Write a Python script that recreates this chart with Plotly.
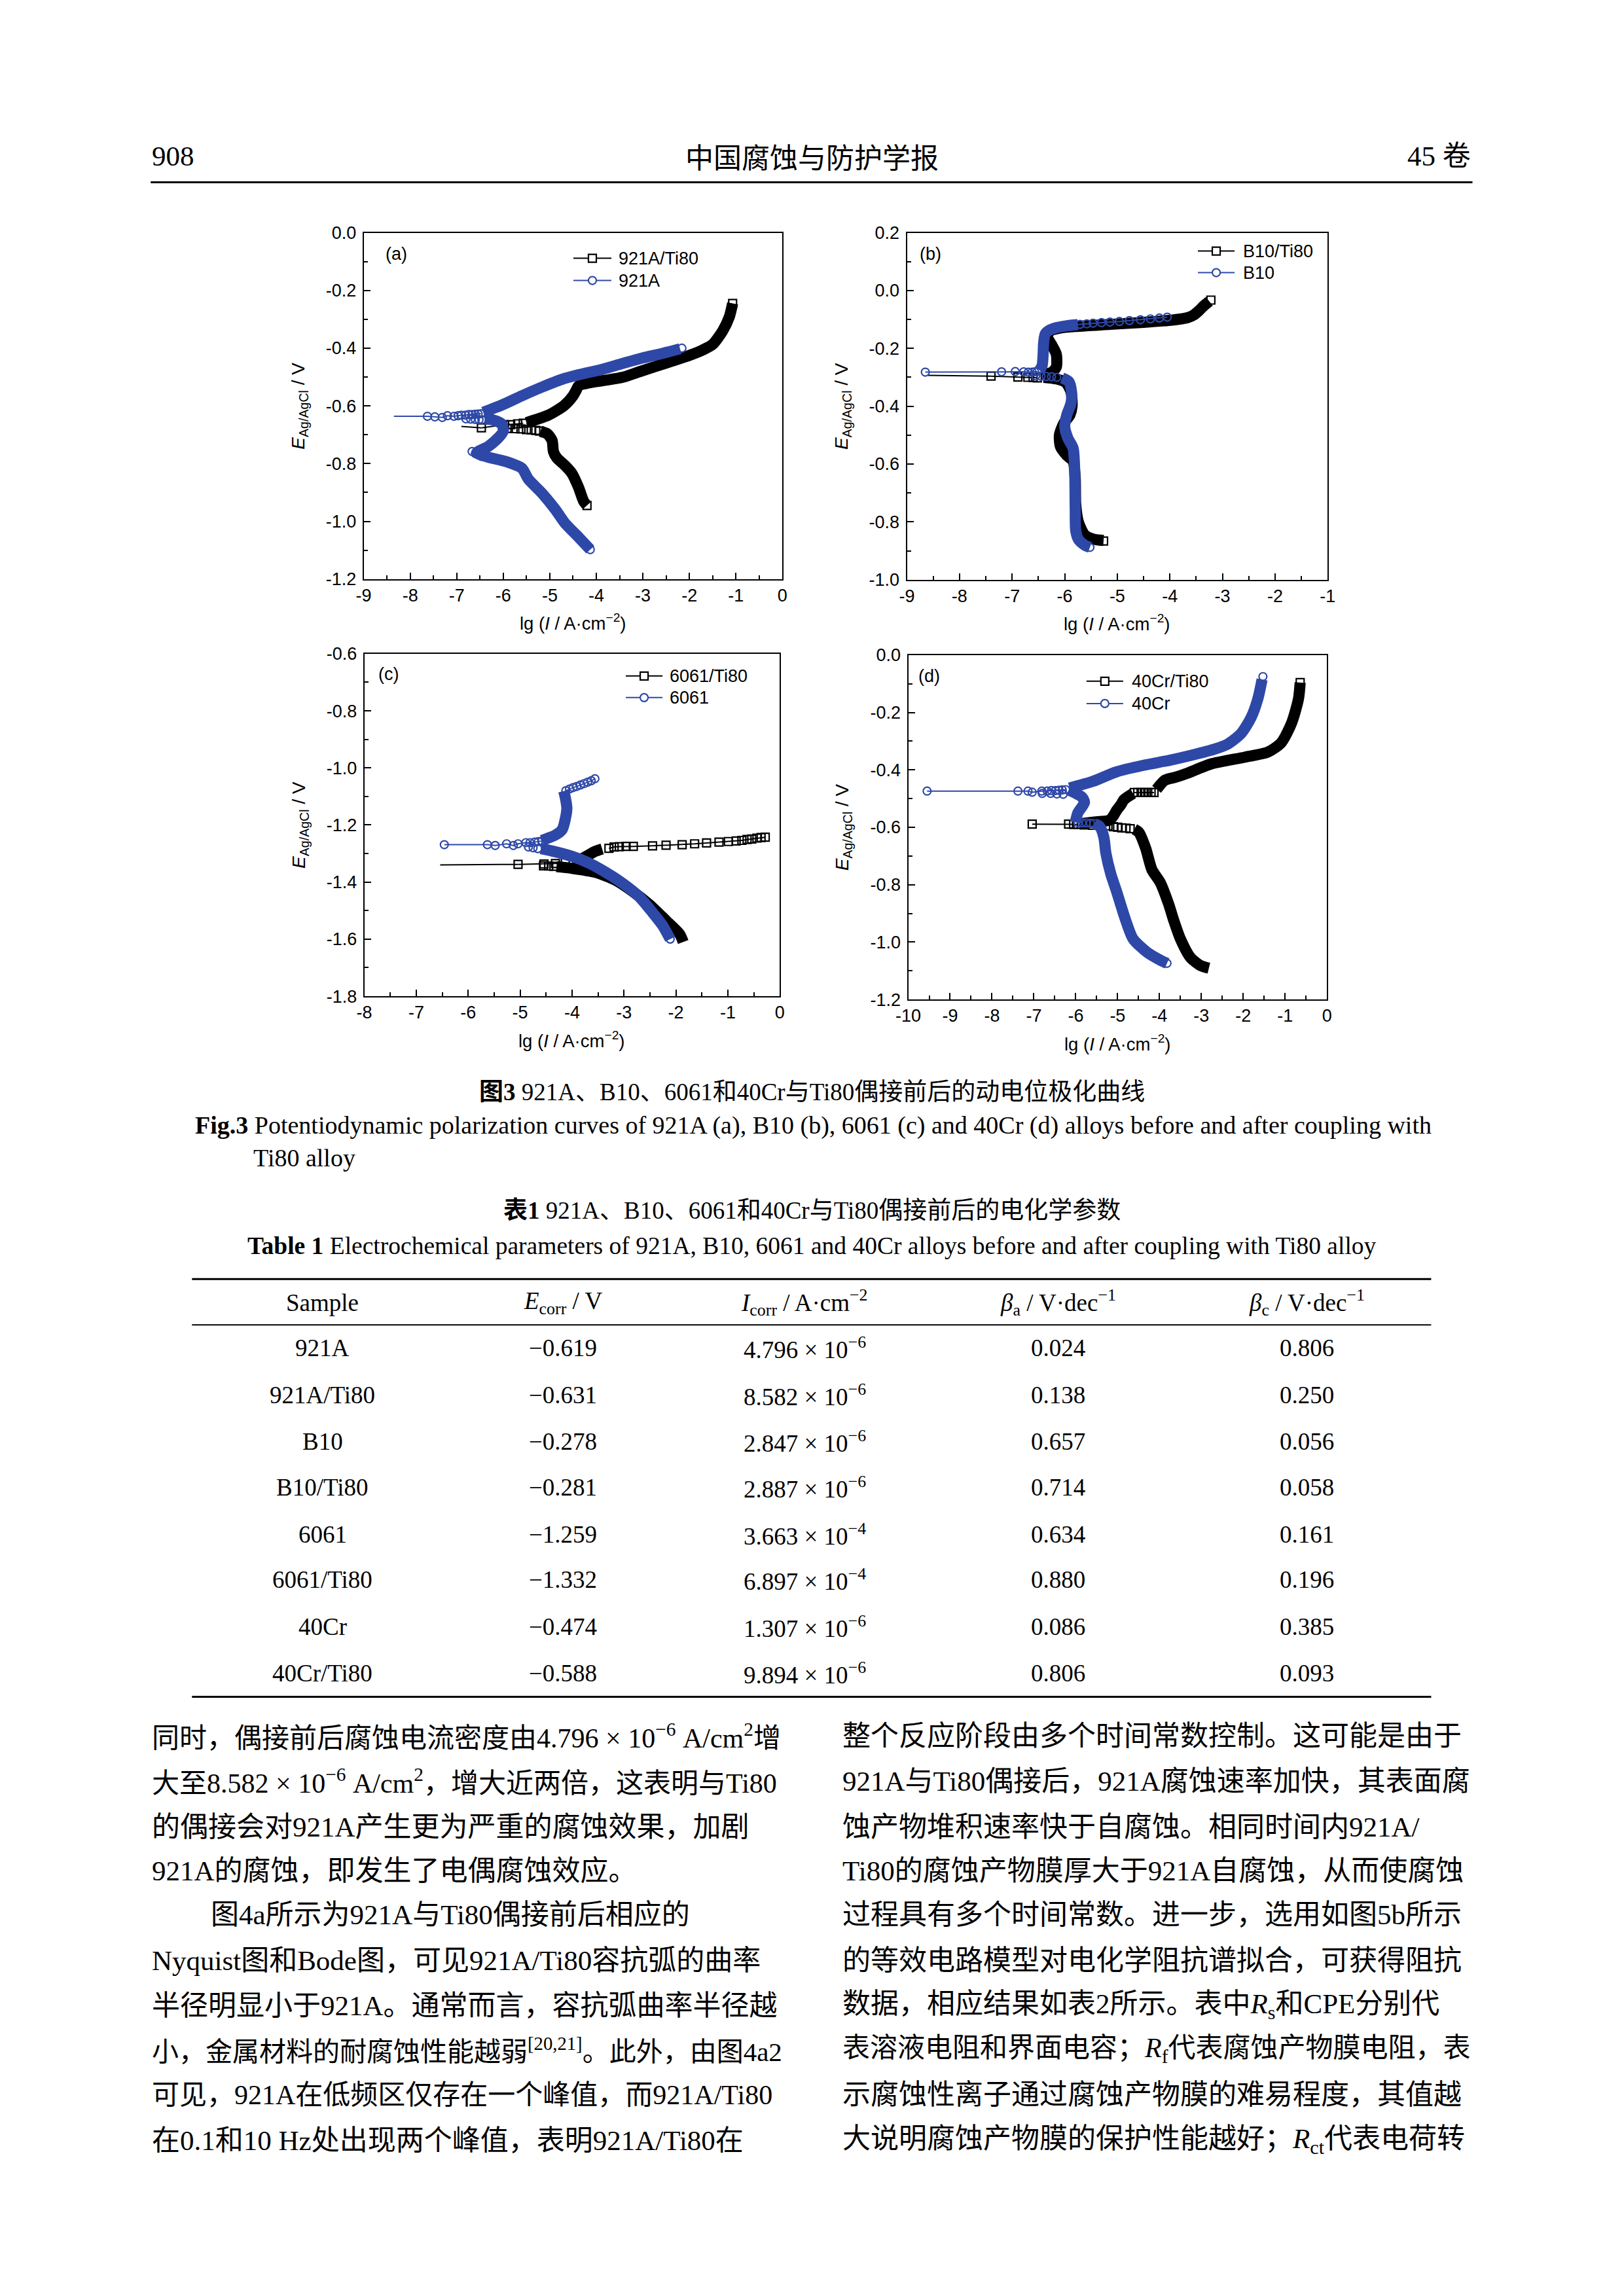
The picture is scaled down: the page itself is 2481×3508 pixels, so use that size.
import plotly.graph_objects as go

W, H = 2481, 3508
SANS = "Liberation Sans, Arial, sans-serif"
SERIF = "Liberation Serif, Times New Roman, Noto Sans CJK SC, serif"
CJK = "Noto Sans CJK SC, sans-serif"
BLUE = "#2E48A8"
BLACK = "#000000"

# ---------------- data: panel (a) 921A ----------------
a_cpl_band_x = [-4.20, -4.27, -4.38, -4.52, -4.67, -4.85, -4.92, -4.95, -5.05, -5.20, None,
                -5.50, -5.03, -4.70, -4.50, -4.43, -4.38, -4.16, -3.80, -3.44, -3.08, -2.72, -2.36,
                -2.00, -1.71, -1.50, -1.28, -1.14, -1.07]
a_cpl_band_y = [-0.945, -0.931, -0.883, -0.835, -0.807, -0.780, -0.759, -0.720, -0.697, -0.688, None,
                -0.658, -0.632, -0.600, -0.565, -0.545, -0.530, -0.520, -0.511, -0.501, -0.482, -0.463, -0.444,
                -0.425, -0.406, -0.387, -0.339, -0.291, -0.245]
a_cpl_x0, a_cpl_y0 = -6.90, -0.671
a_cpl_mk_x = [-6.47, -5.97, -5.84, -5.69, -5.57]
a_cpl_mk_y = [-0.676, -0.665, -0.665, -0.662, -0.660]
a_cpl_pt_x = [-5.89, -5.75, -5.62, -5.50, -5.40, -5.30, -5.22, -4.20, -1.07]
a_cpl_pt_y = [-0.678, -0.679, -0.680, -0.682, -0.683, -0.685, -0.687, -0.945, -0.245]

a_bare_band_x = [-4.13, -4.38, -4.67, -4.88, -5.17, -5.46, -5.60, -5.96, -6.32, -6.57, -6.32, -6.11, -6.00,
                 -6.03, -6.21, -6.40, None, -6.43, -6.03, -5.60, -5.17, -4.74, -4.38, -3.87, -3.44, -3.01,
                 -2.58, -2.20]
a_bare_band_y = [-1.098, -1.055, -1.007, -0.959, -0.902, -0.854, -0.816, -0.792, -0.778, -0.762, -0.740, -0.711,
                 -0.687, -0.663, -0.649, -0.645, None, -0.622, -0.597, -0.565, -0.535, -0.508, -0.492, -0.473,
                 -0.453, -0.434, -0.418, -0.402]
a_bare_x0, a_bare_y0 = -8.35, -0.636
a_bare_mk_x = [-7.63, -7.47, -7.31, -7.20, -7.06, -6.97, -6.90, -6.81, -6.74, -6.67, -6.60, -6.54, -6.48]
a_bare_mk_y = [-0.636, -0.638, -0.640, -0.634, -0.636, -0.634, -0.632, -0.632, -0.630, -0.630, -0.629, -0.628, -0.627]
a_bare_pt_x = [-6.80, -6.70, -6.60, -6.52, -6.46, -6.67, -6.60, -6.53, -6.47, -4.13, -2.16]
a_bare_pt_y = [-0.645, -0.646, -0.647, -0.648, -0.648, -0.758, -0.765, -0.770, -0.775, -1.098, -0.400]

# ---------------- data: panel (b) B10 ----------------
b_cpl_band_x = [-5.26, -5.45, -5.62, -5.74, -5.79, -5.80, -5.84, -5.96, -6.08, -6.10, -6.02, -5.90, -5.86,
                -5.88, -5.98, -6.15, -6.40, None, -6.45, -6.25, -6.16, -6.16, -6.24, -6.33, -6.28, -6.10,
                -5.78, -5.14, -4.50, -3.95, -3.67, -3.55, -3.45, -3.35, -3.25]
b_cpl_band_y = [-0.864, -0.860, -0.845, -0.800, -0.740, -0.650, -0.590, -0.570, -0.540, -0.500, -0.460, -0.430,
                -0.400, -0.350, -0.318, -0.306, -0.300, None, -0.290, -0.283, -0.265, -0.220, -0.190, -0.160,
                -0.140, -0.130, -0.124, -0.117, -0.110, -0.102, -0.094, -0.085, -0.070, -0.052, -0.037]
b_cpl_x0, b_cpl_y0 = -8.60, -0.293
b_cpl_mk_x = [-7.40, -6.89, -6.70, -6.60, -6.52]
b_cpl_mk_y = [-0.296, -0.299, -0.300, -0.301, -0.302]
b_cpl_pt_x = [-3.92, -3.83, -3.76, -5.26, -3.22]
b_cpl_pt_y = [-0.100, -0.099, -0.097, -0.866, -0.033]

b_bare_band_x = [-5.52, -5.62, -5.74, -5.79, -5.80, -5.81, -5.84, -5.94, -6.00, -5.96, -5.88, -5.87, -5.92,
                 -6.05, None, -6.48, -6.43, -6.41, -6.40, -6.37, -6.30, -6.15, -5.97, -5.75]
b_bare_band_y = [-0.888, -0.880, -0.860, -0.830, -0.750, -0.620, -0.545, -0.510, -0.470, -0.430, -0.390,
                 -0.350, -0.315, -0.302, None, -0.275, -0.260, -0.220, -0.180, -0.150, -0.138, -0.128,
                 -0.122, -0.118]
b_bare_x0, b_bare_y0 = -8.65, -0.282
b_bare_mk_x = [-8.65, -7.20, -6.94, -6.78, -6.69, -6.62, -6.57, -6.52, None,
               -5.84, -5.71, -5.58, -5.46, -5.30, -5.14, -4.96, -4.77, -4.56, -4.37, -4.20, -4.05]
b_bare_mk_y = [-0.282, -0.281, -0.280, -0.281, -0.282, -0.282, -0.281, -0.280, None,
               -0.119, -0.117, -0.115, -0.113, -0.111, -0.109, -0.107, -0.104, -0.101, -0.098, -0.095, -0.092]
b_bare_pt_x = [-6.55, -6.45, -6.35, -6.25, -6.15, -5.52]
b_bare_pt_y = [-0.295, -0.296, -0.297, -0.298, -0.300, -0.888]

# ---------------- data: panel (c) 6061 ----------------
c_cpl_band_x = [-1.86, -1.93, -2.19, -2.51, -2.84, -3.16, -3.55, -4.00, -4.30, None,
                -4.00, -3.81, -3.68, -3.55, -3.42]
c_cpl_band_y = [-1.610, -1.582, -1.535, -1.479, -1.432, -1.394, -1.366, -1.352, -1.346, None,
                -1.328, -1.318, -1.305, -1.292, -1.284]
c_cpl_x0, c_cpl_y0 = -6.54, -1.340
c_cpl_mk_x = [-5.04, -4.54, -4.32, -4.13, None, -3.29, -3.19, -3.09, -2.96, -2.82, -2.45, -2.19, -1.88,
              -1.64, -1.41, -1.17, -0.99, -0.84, -0.73, -0.63, -0.54, -0.44, -0.36, -0.28]
c_cpl_mk_y = [-1.338, -1.337, -1.335, -1.332, None, -1.282, -1.277, -1.276, -1.275, -1.275, -1.273, -1.271,
              -1.269, -1.266, -1.263, -1.260, -1.258, -1.256, -1.254, -1.251, -1.249, -1.246, -1.244, -1.243]
c_cpl_pt_x = [-4.35, -4.45, -4.55]
c_cpl_pt_y = [-1.345, -1.344, -1.343]

c_bare_band_x = [-2.11, -2.25, -2.45, -2.71, -3.03, -3.35, -3.68, -4.00, -4.39, -4.60, None,
                 -4.58, -4.32, -4.19, -4.13, -4.10, -4.13, -4.16]
c_bare_band_y = [-1.600, -1.554, -1.507, -1.451, -1.404, -1.366, -1.333, -1.310, -1.291, -1.283, None,
                 -1.254, -1.235, -1.216, -1.179, -1.141, -1.104, -1.081]
c_bare_x0, c_bare_y0 = -6.46, -1.269
c_bare_mk_x = [-6.46, -5.63, -5.48, -5.26, -5.13, -5.04, -4.89, -4.81, -4.72, -4.65, -4.58, None,
               -4.12, -4.05, -3.98, -3.91, -3.84, -3.77, -3.70, -3.63, -3.56]
c_bare_mk_y = [-1.269, -1.269, -1.272, -1.266, -1.272, -1.266, -1.262, -1.262, -1.260, -1.258, -1.256, None,
               -1.080, -1.074, -1.069, -1.065, -1.060, -1.055, -1.050, -1.045, -1.038]
c_bare_pt_x = [-4.84, -4.75, -4.66, -2.11]
c_bare_pt_y = [-1.277, -1.280, -1.283, -1.600]

# ---------------- data: panel (d) 40Cr ----------------
d_cpl_band_x = [-2.82, -3.02, -3.26, -3.50, -3.66, -3.78, -3.98, -4.18, -4.33, -4.49, -4.60, None,
                -5.90, -5.59, -5.19, -5.10, -5.02, -4.91, -4.85, -4.63, None,
                -4.07, -3.87, -3.60, -3.34, -2.78, -1.97, -1.41, -1.09, -0.84, -0.68, -0.64]
d_cpl_band_y = [-1.091, -1.082, -1.054, -0.989, -0.924, -0.868, -0.793, -0.748, -0.673, -0.618, -0.607, None,
                -0.588, -0.582, -0.575, -0.560, -0.540, -0.519, -0.504, -0.482, None,
                -0.468, -0.436, -0.425, -0.412, -0.380, -0.356, -0.338, -0.305, -0.235, -0.152, -0.096]
d_cpl_x0, d_cpl_y0 = -7.04, -0.589
d_cpl_mk_x = [-7.04, -6.17, -6.05, -5.95, None, -4.60, -4.52, -4.44, -4.36, -4.28, -4.20, -4.13]
d_cpl_mk_y = [-0.589, -0.589, -0.590, -0.590, None, -0.479, -0.479, -0.479, -0.479, -0.479, -0.479, -0.479]
d_cpl_pt_x = [-5.80, -5.60, -5.40, -5.23, -5.10, -5.00, -4.90, -4.80, -4.70, -0.64]
d_cpl_pt_y = [-0.592, -0.593, -0.594, -0.595, -0.598, -0.600, -0.602, -0.603, -0.605, -0.096]

d_bare_band_x = [-3.82, -3.98, -4.30, -4.63, -4.83, -5.03, -5.16, -5.28, -5.33, -5.43, -5.55, None,
                 -6.01, -5.95, -5.79, -5.85, -6.01, -6.17, None,
                 -6.15, -5.59, -5.03, -4.38, -3.74, -3.18, -2.69, -2.37, -2.05, -1.81, -1.65, -1.55]
d_bare_band_y = [-1.074, -1.063, -1.035, -0.989, -0.914, -0.821, -0.764, -0.690, -0.634, -0.597, -0.588, None,
                 -0.583, -0.550, -0.513, -0.495, -0.481, -0.470, None,
                 -0.463, -0.440, -0.407, -0.384, -0.366, -0.347, -0.328, -0.310, -0.273, -0.217, -0.152, -0.085]
d_bare_x0, d_bare_y0 = -9.55, -0.474
d_bare_mk_x = [-9.55, -7.38, -7.14, -7.04, -6.81, -6.68, -6.58, -6.48, -6.40, -6.32, -6.24]
d_bare_mk_y = [-0.474, -0.474, -0.474, -0.478, -0.474, -0.474, -0.472, -0.472, -0.471, -0.470, -0.469]
d_bare_pt_x = [-6.80, -6.60, -6.45, -6.30, -5.95, -5.85, -5.75, -5.65, -5.57, -3.82, -1.53]
d_bare_pt_y = [-0.482, -0.482, -0.484, -0.485, -0.584, -0.585, -0.585, -0.586, -0.587, -1.074, -0.075]

# ---------------- axes: ranges and tick labels ----------------
xa_vals = [-9, -8, -7, -6, -5, -4, -3, -2, -1, 0]
xa_text = ["-9", "-8", "-7", "-6", "-5", "-4", "-3", "-2", "-1", "0"]
ya_vals = [-1.2, -1.0, -0.8, -0.6, -0.4, -0.2, 0.0]
ya_text = ["-1.2", "-1.0", "-0.8", "-0.6", "-0.4", "-0.2", "0.0"]
xb_vals = [-9, -8, -7, -6, -5, -4, -3, -2, -1]
xb_text = ["-9", "-8", "-7", "-6", "-5", "-4", "-3", "-2", "-1"]
yb_vals = [-1.0, -0.8, -0.6, -0.4, -0.2, 0.0, 0.2]
yb_text = ["-1.0", "-0.8", "-0.6", "-0.4", "-0.2", "0.0", "0.2"]
xc_vals = [-8, -7, -6, -5, -4, -3, -2, -1, 0]
xc_text = ["-8", "-7", "-6", "-5", "-4", "-3", "-2", "-1", "0"]
yc_vals = [-1.8, -1.6, -1.4, -1.2, -1.0, -0.8, -0.6]
yc_text = ["-1.8", "-1.6", "-1.4", "-1.2", "-1.0", "-0.8", "-0.6"]
xd_vals = [-10, -9, -8, -7, -6, -5, -4, -3, -2, -1, 0]
xd_text = ["-10", "-9", "-8", "-7", "-6", "-5", "-4", "-3", "-2", "-1", "0"]
yd_vals = [-1.2, -1.0, -0.8, -0.6, -0.4, -0.2, 0.0]
yd_text = ["-1.2", "-1.0", "-0.8", "-0.6", "-0.4", "-0.2", "0.0"]

series_names = {"a": ("921A/Ti80", "921A"), "b": ("B10/Ti80", "B10"),
                "c": ("6061/Ti80", "6061"), "d": ("40Cr/Ti80", "40Cr")}

# ---------------- table data ----------------
tbl_sample = ["921A", "921A/Ti80", "B10", "B10/Ti80", "6061", "6061/Ti80", "40Cr", "40Cr/Ti80"]
tbl_ecorr = ["−0.619", "−0.631", "−0.278", "−0.281", "−1.259", "−1.332", "−0.474", "−0.588"]
tbl_icorr_m = ["4.796", "8.582", "2.847", "2.887", "3.663", "6.897", "1.307", "9.894"]
tbl_icorr_e = ["−6", "−6", "−6", "−6", "−4", "−4", "−6", "−6"]
tbl_ba = ["0.024", "0.138", "0.657", "0.714", "0.634", "0.880", "0.086", "0.806"]
tbl_bc = ["0.806", "0.250", "0.056", "0.058", "0.161", "0.196", "0.385", "0.093"]

body_left = [
    "同时，偶接前后腐蚀电流密度由4.796 × 10<sup>−6</sup> A/cm<sup>2</sup>增",
    "大至8.582 × 10<sup>−6</sup> A/cm<sup>2</sup>，增大近两倍，这表明与Ti80",
    "的偶接会对921A产生更为严重的腐蚀效果，加剧",
    "921A的腐蚀，即发生了电偶腐蚀效应。",
    "图4a所示为921A与Ti80偶接前后相应的",
    "Nyquist图和Bode图，可见921A/Ti80容抗弧的曲率",
    "半径明显小于921A。通常而言，容抗弧曲率半径越",
    "小，金属材料的耐腐蚀性能越弱<sup>[20,21]</sup>。此外，由图4a2",
    "可见，921A在低频区仅存在一个峰值，而921A/Ti80",
    "在0.1和10 Hz处出现两个峰值，表明921A/Ti80在",
]
body_right = [
    "整个反应阶段由多个时间常数控制。这可能是由于",
    "921A与Ti80偶接后，921A腐蚀速率加快，其表面腐",
    "蚀产物堆积速率快于自腐蚀。相同时间内921A/",
    "Ti80的腐蚀产物膜厚大于921A自腐蚀，从而使腐蚀",
    "过程具有多个时间常数。进一步，选用如图5b所示",
    "的等效电路模型对电化学阻抗谱拟合，可获得阻抗",
    "数据，相应结果如表2所示。表中<i>R</i><sub>s</sub>和CPE分别代",
    "表溶液电阻和界面电容；<i>R</i><sub>f</sub>代表腐蚀产物膜电阻，表",
    "示腐蚀性离子通过腐蚀产物膜的难易程度，其值越",
    "大说明腐蚀产物膜的保护性能越好；<i>R</i><sub>ct</sub>代表电荷转",
]
# per-line font sizes so that each line stays inside its column
body_left_size = [42, 42, 43, 43, 43, 43, 43, 41, 42, 43]
body_right_size = [43, 43, 43, 43, 43, 43, 43, 42, 43, 43]

# page-pixel -> paper mapping (with a small calibration of the rendered page)
SX, OX = 0.986, 30.0
SY, OY = 0.991, 24.6


def px(x):
    return ((x - OX) / SX) / W


def py(y):
    return 1 - ((y - OY) / SY) / H


fig = go.Figure()

# panel geometry in page pixels: (left, right, top, bottom)
boxes = {"a": (557, 1196, 357, 886), "b": (1386, 2028, 357, 887),
         "c": (558, 1192, 1000, 1523), "d": (1388, 2027, 1002, 1528)}
axis_ids = {"a": ("x", "y", ""), "b": ("x2", "y2", "2"), "c": ("x3", "y3", "3"), "d": ("x4", "y4", "4")}
ranges = {"a": ([-9, 0], [-1.2, 0]), "b": ([-9, -1], [-1.0, 0.2]),
          "c": ([-8, 0], [-1.8, -0.6]), "d": ([-10, 0], [-1.2, 0])}
ticks = {"a": (xa_vals, xa_text, ya_vals, ya_text), "b": (xb_vals, xb_text, yb_vals, yb_text),
         "c": (xc_vals, xc_text, yc_vals, yc_text), "d": (xd_vals, xd_text, yd_vals, yd_text)}

data = {
    "a": [(a_cpl_band_x, a_cpl_band_y, a_cpl_x0, a_cpl_y0, a_cpl_mk_x, a_cpl_mk_y, a_cpl_pt_x, a_cpl_pt_y),
          (a_bare_band_x, a_bare_band_y, a_bare_x0, a_bare_y0, a_bare_mk_x, a_bare_mk_y, a_bare_pt_x, a_bare_pt_y)],
    "b": [(b_cpl_band_x, b_cpl_band_y, b_cpl_x0, b_cpl_y0, b_cpl_mk_x, b_cpl_mk_y, b_cpl_pt_x, b_cpl_pt_y),
          (b_bare_band_x, b_bare_band_y, b_bare_x0, b_bare_y0, b_bare_mk_x, b_bare_mk_y, b_bare_pt_x, b_bare_pt_y)],
    "c": [(c_cpl_band_x, c_cpl_band_y, c_cpl_x0, c_cpl_y0, c_cpl_mk_x, c_cpl_mk_y, c_cpl_pt_x, c_cpl_pt_y),
          (c_bare_band_x, c_bare_band_y, c_bare_x0, c_bare_y0, c_bare_mk_x, c_bare_mk_y, c_bare_pt_x, c_bare_pt_y)],
    "d": [(d_cpl_band_x, d_cpl_band_y, d_cpl_x0, d_cpl_y0, d_cpl_mk_x, d_cpl_mk_y, d_cpl_pt_x, d_cpl_pt_y),
          (d_bare_band_x, d_bare_band_y, d_bare_x0, d_bare_y0, d_bare_mk_x, d_bare_mk_y, d_bare_pt_x, d_bare_pt_y)],
}

BAND_W = 17
MK_SIZE = 12
styles = [(BLACK, "square-open", "rect"), (BLUE, "circle-open", "circle")]

for key in ["a", "b", "c", "d"]:
    xr, yr, sfx = axis_ids[key]
    for i, (bx, by, x0, y0, mx, my, ptx, pty) in enumerate(data[key]):
        color, sym, _ = styles[i]
        name = series_names[key][i]
        first = next(v for v in mx if v is not None)
        firsty = next(v for v in my if v is not None)
        fig.add_trace(go.Scatter(x=[x0, first], y=[y0, firsty], mode="lines", xaxis=xr, yaxis=yr,
                                 line=dict(color=color, width=2), showlegend=False, hoverinfo="skip"))
        fig.add_trace(go.Scatter(x=bx, y=by, mode="lines", xaxis=xr, yaxis=yr,
                                 line=dict(color=color, width=BAND_W, shape="spline", smoothing=0.7),
                                 showlegend=False, hoverinfo="skip"))
        fig.add_trace(go.Scatter(x=ptx, y=pty, mode="markers", xaxis=xr, yaxis=yr,
                                 marker=dict(symbol=sym, size=MK_SIZE, color=color, line=dict(width=2.2, color=color)),
                                 showlegend=False, hoverinfo="skip"))
        fig.add_trace(go.Scatter(x=mx, y=my, mode="lines+markers", xaxis=xr, yaxis=yr, name=name,
                                 line=dict(color=color, width=2),
                                 marker=dict(symbol=sym, size=MK_SIZE, color=color, line=dict(width=2.2, color=color)),
                                 showlegend=False, hoverinfo="skip"))

layout_axes = {}
for key in ["a", "b", "c", "d"]:
    l, r, t, b = boxes[key]
    xr, yr, sfx = axis_ids[key]
    xv, xt, yv, yt = ticks[key]
    common = dict(ticks="inside", ticklen=10, tickwidth=2, tickcolor="black",
                  showline=True, linewidth=2, linecolor="black", mirror=True,
                  showgrid=False, zeroline=False, fixedrange=True,
                  tickfont=dict(family=SANS, size=27, color="black"))
    layout_axes["xaxis" + sfx] = dict(domain=[px(l), px(r)], range=ranges[key][0], anchor=yr,
                                      tickmode="array", tickvals=xv, ticktext=xt,
                                      minor=dict(tickmode="linear", tick0=0, dtick=0.5, ticks="inside",
                                                 ticklen=6, tickwidth=2, tickcolor="black"),
                                      ticklabelstandoff=0, **common)
    layout_axes["yaxis" + sfx] = dict(domain=[py(b), py(t)], range=ranges[key][1], anchor=xr,
                                      tickmode="array", tickvals=yv, ticktext=yt,
                                      minor=dict(tickmode="linear", tick0=0, dtick=0.1, ticks="inside",
                                                 ticklen=6, tickwidth=2, tickcolor="black"),
                                      ticklabelstandoff=4, **common)

fig.update_layout(width=W, height=H, margin=dict(l=0, r=0, t=0, b=0), showlegend=False,
                  paper_bgcolor="white", plot_bgcolor="white", **layout_axes)


def txt(x, y, s, size, fam=SERIF, xa="center", ya="middle", angle=0):
    fig.add_annotation(x=px(x), y=py(y), xref="paper", yref="paper", text=s, showarrow=False,
                       xanchor=xa, yanchor=ya, textangle=angle,
                       font=dict(family=fam, size=size, color="black"))


def hline(x0, x1, y, w, color="black"):
    fig.add_shape(type="line", xref="paper", yref="paper", x0=px(x0), x1=px(x1), y0=py(y), y1=py(y),
                  line=dict(color=color, width=w))


# panel labels, axis titles and legends
panel_lbl = {"a": (588, 389), "b": (1403, 389), "c": (577, 1031), "d": (1401, 1034)}
legend_geo = {"a": (877, 935, 944, 396, 430), "b": (1830, 1886, 1897, 385, 418),
              "c": (957, 1013, 1022, 1034, 1067), "d": (1660, 1716, 1727, 1042, 1076)}
for key in ["a", "b", "c", "d"]:
    l, r, t, b = boxes[key]
    lx, ly = panel_lbl[key]
    txt(lx, ly, "(" + key + ")", 27, SANS, xa="left")
    txt(l - 98, (t + b) / 2, "<i>E</i><sub>Ag/AgCl</sub> / V", 28, SANS, angle=-90)
    txt((l + r) / 2, b + 66, "lg (<i>I</i> / A·cm<sup>−2</sup>)", 27.5, SANS)
    x0l, x1l, xt, ya_, yb_ = legend_geo[key]
    for i, yy in enumerate([ya_, yb_]):
        color, _, shp = styles[i]
        hline(x0l, x1l, yy, 2, color)
        xm = (x0l + x1l) / 2
        fig.add_shape(type=shp, xref="paper", yref="paper", x0=px(xm - 6), x1=px(xm + 6),
                      y0=py(yy + 6), y1=py(yy - 6), fillcolor="white", line=dict(color=color, width=2.2))
        txt(xt, yy, series_names[key][i], 27, SANS, xa="left")

# running header
txt(232, 240, "908", 43, SERIF, xa="left")
txt(1241, 240, "中国腐蚀与防护学报", 43, CJK)
txt(2249, 240, "45 卷", 43, SERIF, xa="right")
hline(232, 2249, 280, 3)

# figure caption
txt(1241, 1669, "<b>图3</b> 921A、B10、6061和40Cr与Ti80偶接前后的动电位极化曲线", 37, SERIF)
txt(298, 1720, "<b>Fig.3</b> Potentiodynamic polarization curves of 921A (a), B10 (b), 6061 (c) and 40Cr (d) alloys before and after coupling with", 38, SERIF, xa="left")
txt(387, 1770, "Ti80 alloy", 38, SERIF, xa="left")

# table
txt(1241, 1850, "<b>表1</b> 921A、B10、6061和40Cr与Ti80偶接前后的电化学参数", 37, SERIF)
txt(1241, 1904, "<b>Table 1</b> Electrochemical parameters of 921A, B10, 6061 and 40Cr alloys before and after coupling with Ti80 alloy", 37.5, SERIF)
hline(295, 2186, 1955, 3)
hline(295, 2186, 2025, 2)
hline(295, 2186, 2593, 3)
cols = [494, 861, 1230, 1617, 1996]
heads = ["Sample", "<i>E</i><sub>corr</sub> / V", "<i>I</i><sub>corr</sub> / A·cm<sup>−2</sup>",
         "<i>β</i><sub>a</sub> / V·dec<sup>−1</sup>", "<i>β</i><sub>c</sub> / V·dec<sup>−1</sup>"]
for cx, h in zip(cols, heads):
    txt(cx, 1991, h, 37, SERIF)
row_y = [2060, 2132, 2203, 2273, 2345, 2414, 2486, 2557]
for i, ry in enumerate(row_y):
    txt(cols[0], ry, tbl_sample[i], 37, SERIF)
    txt(cols[1], ry, tbl_ecorr[i], 37, SERIF)
    txt(cols[2], ry, tbl_icorr_m[i] + " × 10<sup>" + tbl_icorr_e[i] + "</sup>", 37, SERIF)
    txt(cols[3], ry, tbl_ba[i], 37, SERIF)
    txt(cols[4], ry, tbl_bc[i], 37, SERIF)

# body text
line_y = [2653, 2722, 2792, 2859, 2926, 2996, 3065, 3132, 3201, 3271]
for i, s in enumerate(body_left):
    x = 322 if i == 4 else 232
    txt(x, line_y[i], s, body_left_size[i], SERIF, xa="left")
for i, s in enumerate(body_right):
    txt(1286, line_y[i], s, body_right_size[i], SERIF, xa="left")

fig.write_html("out.html")
